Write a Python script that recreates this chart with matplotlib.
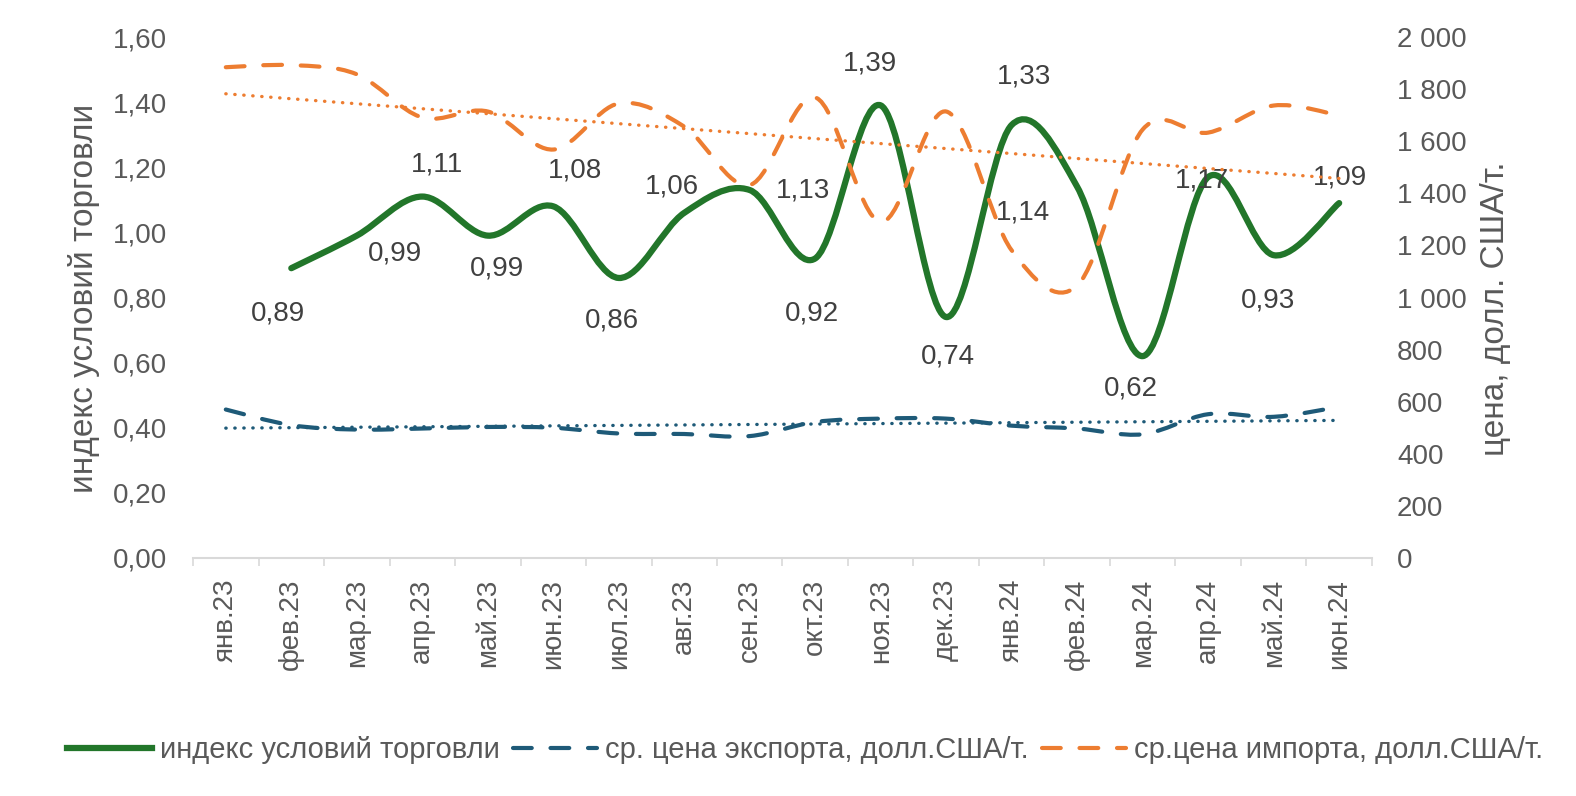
import numpy as np
import matplotlib
matplotlib.use("Agg")
import matplotlib.pyplot as plt
from matplotlib.path import Path
from matplotlib.patches import PathPatch
from matplotlib.lines import Line2D
from matplotlib.ticker import FuncFormatter, FixedLocator

plt.rcParams['font.family'] = ['Liberation Sans', 'DejaVu Sans']

# months on the x axis
months = ['янв.23', 'фев.23', 'мар.23', 'апр.23', 'май.23', 'июн.23', 'июл.23', 'авг.23', 'сен.23',
          'окт.23', 'ноя.23', 'дек.23', 'янв.24', 'фев.24', 'мар.24', 'апр.24', 'май.24', 'июн.24']

# terms of trade index (starts from фев.23)
tot_index = [np.nan, 0.89, 0.99, 1.11, 0.99, 1.08, 0.86, 1.06, 1.13, 0.92, 1.39, 0.74,
             1.33, 1.14, 0.62, 1.17, 0.93, 1.09]

# average export price, USD/t
export_price = [570, 510, 493, 497, 503, 500, 478, 476, 468, 522, 535, 535, 508, 497, 475, 552, 542, 580]

# average import price, USD/t
import_price = [1884, 1892, 1857, 1691, 1714, 1568, 1745, 1656, 1432, 1768, 1290, 1714,
                1181, 1046, 1645, 1633, 1737, 1699]

# where the value labels sit relative to their point (x in categories, y in index units)
label_offsets = [None, (-0.2, -0.14), (0.58, -0.056), (0.23, 0.097), (0.14, -0.10), (0.33, 0.11),
                 (-0.10, -0.13), (-0.19, 0.08), (0.81, 0.0), (-0.05, -0.17), (-0.16, 0.13),
                 (0.03, -0.12), (0.19, 0.15), (-0.83, -0.08), (-0.18, -0.10), (-0.10, -0.01),
                 (-0.09, -0.14), (0.01, 0.08)]

GREEN = '#22762A'
BLUE = '#1E5A78'
ORANGE = '#ED7D31'
GREY = '#595959'
FS = 20


# Excel style smoothed line as a bezier path
def smooth_path(xs, ys):
    n = len(xs)
    verts = [(xs[0], ys[0])]
    codes = [Path.MOVETO]
    for i in range(n - 1):
        p0 = (xs[i - 1], ys[i - 1]) if i > 0 else (xs[i], ys[i])
        p1 = (xs[i], ys[i])
        p2 = (xs[i + 1], ys[i + 1])
        p3 = (xs[i + 2], ys[i + 2]) if i + 2 < n else p2
        c1 = (p1[0] + (p2[0] - p0[0]) / 6, p1[1] + (p2[1] - p0[1]) / 6)
        c2 = (p2[0] - (p3[0] - p1[0]) / 6, p2[1] - (p3[1] - p1[1]) / 6)
        verts += [c1, c2, p2]
        codes += [Path.CURVE4] * 3
    return Path(verts, codes)


x = np.arange(len(months))

fig = plt.figure(figsize=(15.76, 7.96), dpi=100)
ax = fig.add_axes([0.1225, 0.299, 0.748, 0.6545])
ax2 = ax.twinx()

# green index line
ok = ~np.isnan(tot_index)
ax.add_patch(PathPatch(smooth_path(x[ok], np.array(tot_index)[ok]), fill=False,
                       edgecolor=GREEN, lw=4.5, capstyle='round', joinstyle='round'))

for i, v in enumerate(tot_index):
    if np.isnan(v):
        continue
    dx, dy = label_offsets[i]
    ax.text(i + dx, v + dy, f'{v:.2f}'.replace('.', ','), ha='center', va='center',
            fontsize=FS, color='#404040')

# prices on the right axis
dash = (0, (4.5, 4.5))
ax2.add_patch(PathPatch(smooth_path(x, export_price), fill=False, edgecolor=BLUE, lw=3,
                        linestyle=dash, capstyle='round'))
ax2.add_patch(PathPatch(smooth_path(x, import_price), fill=False, edgecolor=ORANGE, lw=3,
                        linestyle=dash, capstyle='round'))

# linear trends
for series, col in [(export_price, BLUE), (import_price, ORANGE)]:
    k, b = np.polyfit(x, series, 1)
    ax2.plot(x, k * x + b, color=col, lw=2.4, linestyle=(0, (0.1, 2.6)),
             dash_capstyle='round')

ax.set_xlim(-0.5, len(months) - 0.5)
ax.set_ylim(0, 1.6)
ax2.set_ylim(0, 2000)

ax.set_yticks(np.arange(0, 1.61, 0.2))
ax.yaxis.set_major_formatter(FuncFormatter(lambda v, p: f'{v:.2f}'.replace('.', ',')))
ax2.set_yticks(np.arange(0, 2001, 200))
ax2.yaxis.set_major_formatter(FuncFormatter(lambda v, p: f'{int(round(v)):,}'.replace(',', ' ')))

ax.set_xticks(x)
ax.set_xticklabels(months, rotation=90, fontsize=FS, color=GREY)
ax.xaxis.set_minor_locator(FixedLocator(np.arange(-0.5, len(months), 1.0)))
ax.tick_params(axis='x', which='major', length=0, pad=15)
ax.tick_params(axis='x', which='minor', length=6, width=1.2, color='#D9D9D9')

ax.tick_params(axis='y', length=0, labelsize=FS, labelcolor=GREY, pad=19)
ax2.tick_params(axis='y', length=0, labelsize=FS, labelcolor=GREY, pad=18)

for s in ['top', 'left', 'right']:
    ax.spines[s].set_visible(False)
ax.spines['bottom'].set_color('#D9D9D9')
ax.spines['bottom'].set_linewidth(1.5)
for s in ax2.spines.values():
    s.set_visible(False)

fig.text(0.0533, 0.6256, 'индекс условий торговли', rotation=90, ha='center', va='center',
         fontsize=24, color=GREY)
fig.text(0.9492, 0.6118, 'цена, долл. США/т.', rotation=90, ha='center', va='center',
         fontsize=24, color=GREY)

handles = [
    Line2D([], [], color=GREEN, lw=4.5),
    Line2D([], [], color=BLUE, lw=3, linestyle=dash, dash_capstyle='round'),
    Line2D([], [], color=ORANGE, lw=3, linestyle=dash, dash_capstyle='round'),
]
fig.legend(handles, ['индекс условий торговли', 'ср. цена экспорта, долл.США/т.',
                     'ср.цена импорта, долл.США/т.'],
           loc='center', bbox_to_anchor=(0.511, 0.058), ncol=3, frameon=False,
           fontsize=21, labelcolor=GREY, handlelength=2.9, handletextpad=0.27, columnspacing=0.45)

fig.savefig('out.png', dpi=100)
